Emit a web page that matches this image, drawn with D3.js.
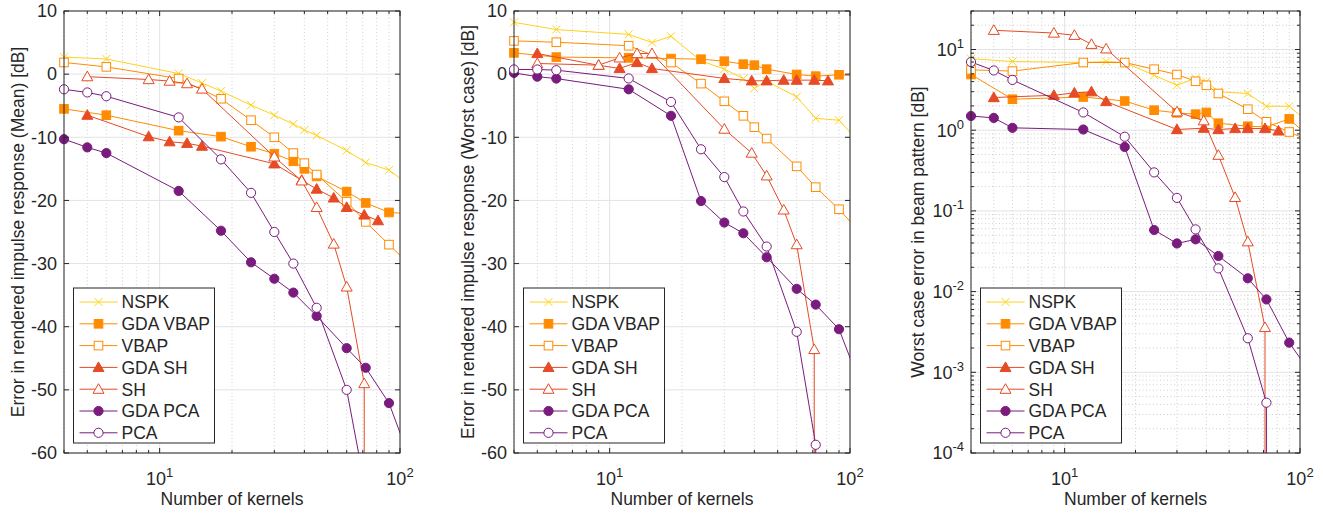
<!DOCTYPE html>
<html>
<head>
<meta charset="utf-8">
<script src="https://cdn.jsdelivr.net/npm/d3@7"></script>
<style>
  body { margin: 0; background: #fff; }
  text { font-family: "Liberation Sans", Arial, sans-serif; fill: #262626; }
</style>
</head>
<body>
<svg id="chart" width="1323" height="513"></svg>
<script>
// x positions (number of kernels) for each method
const xNspk = [4, 6, 12, 15, 18, 24, 30, 36, 40, 45, 60, 72, 90, 120];
const xVbap = [4, 6, 12, 18, 24, 30, 36, 40, 45, 60, 72, 90, 120];
const xSh = [5, 9, 11, 13, 15, 30, 39, 45, 53, 60, 71, 71];
const xGdaSh = [5, 9, 11, 13, 15, 30, 39, 45, 53, 60, 71, 81];
const xPca = [4, 5, 6, 12, 18, 24, 30, 36, 45, 60, 72, 72];
const xGdaPca = [4, 5, 6, 12, 18, 24, 30, 36, 45, 60, 72, 90, 120];

// panel 1: mean error in rendered impulse response [dB]
const meanNspk = [2.7, 2.4, 0.1, -1.4, -2.7, -4.9, -6.5, -7.9, -8.85, -9.7, -12.1, -14.0, -15.2, -18.7];
const meanGdaVbap = [-5.5, -6.5, -8.95, -9.9, -11.5, -12.6, -13.8, -15.0, -16.2, -18.6, -20.4, -21.9, -22.2];
const meanVbap = [1.85, 1.15, -0.7, -3.9, -7.3, -10.0, -12.5, -14.1, -15.9, -20.2, -23.4, -27.0, -31.6];
const meanGdaSh = [-6.5, -9.9, -10.7, -10.95, -11.4, -14.2, -16.8, -18.2, -19.6, -21.1, -22.3, -23.2];
const meanSh = [-0.4, -0.85, -1.1, -1.5, -2.35, -13.1, -16.9, -21.1, -26.9, -33.7, -49.0, -300];
const meanGdaPca = [-10.3, -11.6, -12.5, -18.5, -24.8, -29.8, -32.4, -34.6, -38.3, -43.4, -46.5, -52.1, -64.9];
const meanPca = [-2.4, -2.9, -3.5, -6.85, -13.5, -18.8, -25.0, -30.0, -37.0, -50.0, -66.0, -300];

// panel 2: worst case error in rendered impulse response [dB]
const worstNspk = [8.2, 7.06, 6.3, 5.0, 6.0, 2.1, 0.8, -0.7, -2.25, -1.1, -3.6, -7.0, -7.3, -12.5];
const worstGdaVbap = [3.37, 2.7, 2.58, 2.47, 2.37, 2.05, 1.58, 1.42, 0.79, -0.05, -0.32, -0.1, -0.4];
const worstVbap = [5.27, 5.05, 4.5, 1.84, -1.5, -4.3, -6.6, -8.4, -10.2, -14.6, -17.9, -21.4, -26.6];
const worstGdaSh = [3.27, 1.4, 0.9, 1.85, 0.9, -0.68, -1.05, -1.05, -0.95, -0.95, -0.95, -1.05];
const worstSh = [1.69, 1.42, 2.58, 3.27, 3.27, -8.7, -12.5, -16.1, -21.5, -27.0, -43.6, -300];
const worstGdaPca = [0.2, -0.4, -0.7, -2.4, -6.6, -20.1, -23.5, -25.2, -29.0, -34.0, -36.5, -40.4, -52.7];
const worstPca = [0.74, 0.74, 0.63, -0.68, -4.4, -11.9, -16.3, -21.75, -27.3, -40.8, -58.7, -300];

// panel 3: worst case error in beam pattern [dB]
const beamNspk = [7.7, 7.1, 6.9, 7.1, 6.9, 4.8, 3.6, 4.4, 4.0, 3.0, 2.85, 1.98, 1.98, 0.98];
const beamGdaVbap = [4.9, 2.42, 2.58, 2.3, 1.77, 1.64, 1.58, 1.66, 1.22, 1.12, 1.1, 1.38, 0.64];
const beamVbap = [5.6, 5.4, 6.9, 6.9, 5.7, 4.9, 4.04, 3.6, 2.85, 1.82, 1.27, 0.95, 0.66];
const beamGdaSh = [2.54, 2.71, 2.9, 3.0, 2.27, 1.02, 1.06, 1.02, 1.05, 1.05, 1.05, 0.98];
const beamSh = [17.3, 16.0, 15.0, 11.6, 10.2, 1.69, 1.31, 0.49, 0.147, 0.0415, 0.0036, 1e-9];
const beamGdaPca = [1.5, 1.42, 1.07, 1.02, 0.62, 0.058, 0.0395, 0.0444, 0.0276, 0.0146, 0.008, 0.00233, 0.0007];
const beamPca = [7.0, 5.5, 4.2, 1.66, 0.83, 0.30, 0.145, 0.059, 0.0194, 0.00264, 0.00042, 1e-9];

const names = ['NSPK', 'GDA VBAP', 'VBAP', 'GDA SH', 'SH', 'GDA PCA', 'PCA'];
const xs = [xNspk, xVbap, xVbap, xGdaSh, xSh, xGdaPca, xPca];
const colors = ['#FFD21A', '#FF8C00', '#FF8C00', '#E64B25', '#E64B25', '#7A1B7E', '#7A1B7E'];
const markers = ['x', 'square', 'square', 'triangle', 'triangle', 'circle', 'circle'];
const filled = [true, true, false, true, false, true, false];

const meanYs = [meanNspk, meanGdaVbap, meanVbap, meanGdaSh, meanSh, meanGdaPca, meanPca];
const worstYs = [worstNspk, worstGdaVbap, worstVbap, worstGdaSh, worstSh, worstGdaPca, worstPca];
const beamYs = [beamNspk, beamGdaVbap, beamVbap, beamGdaSh, beamSh, beamGdaPca, beamPca];

const plotTop = 11, plotBottom = 453;
const axisColor = '#262626';
const tickFont = 18, labelFont = 17.5, legendFont = 17.5;
const svg = d3.select('#chart');

const panels = [
  { left: 64, right: 400, log: false, ys: meanYs, ylabel: 'Error in rendered impulse response (Mean) [dB]', labelX: 18 },
  { left: 514, right: 850, log: false, ys: worstYs, ylabel: 'Error in rendered impulse response (Worst case) [dB]', labelX: 468 },
  { left: 971, right: 1300, log: true, ys: beamYs, ylabel: 'Worst case error in beam pattern [dB]', labelX: 918 },
];

function drawMarker(g, type, cx, cy, color, fill) {
  const f = fill ? color : '#fff';
  if (type === 'x') {
    const s = 4;
    g.append('path')
      .attr('d', `M${cx - s},${cy - s}L${cx + s},${cy + s}M${cx - s},${cy + s}L${cx + s},${cy - s}`)
      .attr('stroke', color).attr('stroke-width', 1).attr('fill', 'none');
  } else if (type === 'square') {
    const s = 4.3;
    g.append('rect').attr('x', cx - s).attr('y', cy - s)
      .attr('width', 2 * s).attr('height', 2 * s)
      .attr('fill', f).attr('stroke', color).attr('stroke-width', 1);
  } else if (type === 'triangle') {
    const s = 5.5;
    g.append('path')
      .attr('d', `M${cx},${cy - s}L${cx + s},${cy + s * 0.75}L${cx - s},${cy + s * 0.75}Z`)
      .attr('fill', f).attr('stroke', color).attr('stroke-width', 1);
  } else {
    g.append('circle').attr('cx', cx).attr('cy', cy).attr('r', 4.6)
      .attr('fill', f).attr('stroke', color).attr('stroke-width', 1);
  }
}

panels.forEach((p, pi) => {
  const g = svg.append('g');
  const x = d3.scaleLog().domain([4, 100]).range([p.left, p.right]);
  const y = p.log
    ? d3.scaleLog().domain([1e-4, 30]).range([plotBottom, plotTop])
    : d3.scaleLinear().domain([-60, 10]).range([plotBottom, plotTop]);

  // grid
  const xMinor = [4, 5, 6, 7, 8, 9, 20, 30, 40, 50, 60, 70, 80, 90];
  const xMajor = [10, 100];
  xMinor.forEach((v) => {
    g.append('line').attr('x1', x(v)).attr('x2', x(v)).attr('y1', plotTop).attr('y2', plotBottom)
      .attr('stroke', '#cfcfcf').attr('stroke-width', 1).attr('stroke-dasharray', '1,2.5');
  });
  let yMajor, yMinor = [];
  if (p.log) {
    yMajor = [1e-4, 1e-3, 1e-2, 1e-1, 1, 10];
    [1e-4, 1e-3, 1e-2, 1e-1, 1, 10].forEach((d) => {
      for (let k = 2; k <= 9; k++) if (d * k <= 30) yMinor.push(d * k);
    });
  } else {
    yMajor = d3.range(-60, 11, 10);
  }
  yMinor.forEach((v) => {
    g.append('line').attr('x1', p.left).attr('x2', p.right).attr('y1', y(v)).attr('y2', y(v))
      .attr('stroke', '#cfcfcf').attr('stroke-width', 1).attr('stroke-dasharray', '1,2.5');
  });
  xMajor.forEach((v) => {
    g.append('line').attr('x1', x(v)).attr('x2', x(v)).attr('y1', plotTop).attr('y2', plotBottom)
      .attr('stroke', '#e3e3e3').attr('stroke-width', 1);
  });
  yMajor.forEach((v) => {
    g.append('line').attr('x1', p.left).attr('x2', p.right).attr('y1', y(v)).attr('y2', y(v))
      .attr('stroke', '#e3e3e3').attr('stroke-width', 1);
  });

  // clip for lines
  const clipId = 'clip' + pi;
  svg.append('clipPath').attr('id', clipId).append('rect')
    .attr('x', p.left).attr('y', plotTop).attr('width', p.right - p.left).attr('height', plotBottom - plotTop);

  const line = d3.line().x((d) => x(d[0])).y((d) => y(d[1]));

  names.forEach((name, si) => {
    const pts = xs[si].map((xv, i) => [xv, p.ys[si][i]]);
    g.append('path').datum(pts)
      .attr('d', line)
      .attr('clip-path', `url(#${clipId})`)
      .attr('fill', 'none')
      .attr('stroke', colors[si])
      .attr('stroke-width', 1);
    const mg = g.append('g');
    pts.forEach((d) => {
      const [xv, yv] = d;
      if (xv < 4 || xv > 100) return;
      if (p.log ? (yv < 1e-4 || yv > 30) : (yv < -60 || yv > 10)) return;
      drawMarker(mg, markers[si], x(xv), y(yv), colors[si], filled[si]);
    });
  });

  // axes box and ticks
  g.append('rect').attr('x', p.left).attr('y', plotTop)
    .attr('width', p.right - p.left).attr('height', plotBottom - plotTop)
    .attr('fill', 'none').attr('stroke', axisColor).attr('stroke-width', 1);

  const tk = 5, tkm = 3;
  xMajor.concat(xMinor).forEach((v) => {
    const len = xMajor.includes(v) ? tk : tkm;
    g.append('line').attr('x1', x(v)).attr('x2', x(v)).attr('y1', plotBottom).attr('y2', plotBottom - len).attr('stroke', axisColor);
    g.append('line').attr('x1', x(v)).attr('x2', x(v)).attr('y1', plotTop).attr('y2', plotTop + len).attr('stroke', axisColor);
  });
  yMajor.concat(yMinor).forEach((v) => {
    const len = yMajor.includes(v) ? tk : tkm;
    g.append('line').attr('x1', p.left).attr('x2', p.left + len).attr('y1', y(v)).attr('y2', y(v)).attr('stroke', axisColor);
    g.append('line').attr('x1', p.right).attr('x2', p.right - len).attr('y1', y(v)).attr('y2', y(v)).attr('stroke', axisColor);
  });

  // x tick labels
  [[10, '1'], [100, '2']].forEach(([v, e]) => {
    const t = g.append('text').attr('x', x(v)).attr('y', 485)
      .attr('text-anchor', 'middle').attr('font-size', tickFont);
    t.append('tspan').text('10');
    t.append('tspan').attr('dy', -8).attr('font-size', 13).text(e);
  });

  // y tick labels
  yMajor.forEach((v) => {
    const t = g.append('text').attr('x', p.left - 7).attr('y', y(v) + 6.3)
      .attr('text-anchor', 'end').attr('font-size', tickFont);
    if (p.log) {
      t.append('tspan').text('10');
      t.append('tspan').attr('dy', -8).attr('font-size', 13).text(String(Math.round(Math.log10(v))));
    } else {
      t.text(String(v));
    }
  });

  // axis labels
  g.append('text').attr('x', (p.left + p.right) / 2).attr('y', 505)
    .attr('text-anchor', 'middle').attr('font-size', labelFont).text('Number of kernels');
  g.append('text')
    .attr('transform', `translate(${p.labelX},${(plotTop + plotBottom) / 2}) rotate(-90)`)
    .attr('text-anchor', 'middle').attr('dy', '0.35em').attr('font-size', labelFont)
    .text(p.ylabel);

  // legend
  const lx = p.left + 9.5, ly = 288, lw = 141, lh = 155;
  const lg = g.append('g');
  lg.append('rect').attr('x', lx).attr('y', ly).attr('width', lw).attr('height', lh)
    .attr('fill', '#fff').attr('stroke', axisColor).attr('stroke-width', 1);
  names.forEach((name, si) => {
    const ry = ly + 14 + si * 21.8;
    lg.append('line').attr('x1', lx + 6).attr('x2', lx + 44).attr('y1', ry).attr('y2', ry)
      .attr('stroke', colors[si]).attr('stroke-width', 1);
    drawMarker(lg, markers[si], lx + 25, ry, colors[si], filled[si]);
    lg.append('text').attr('x', lx + 48).attr('y', ry + 6.3).attr('font-size', legendFont).text(name);
  });
});
</script>
</body>
</html>
